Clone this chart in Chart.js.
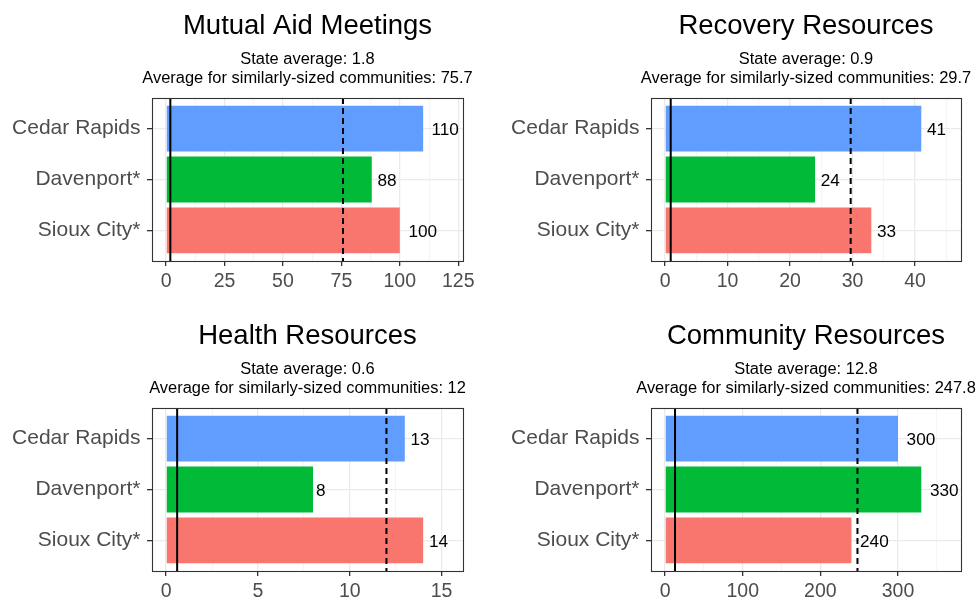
<!DOCTYPE html>
<html><head><meta charset="utf-8">
<script src="https://cdn.jsdelivr.net/npm/chart.js@4.4.1/dist/chart.umd.min.js"></script>
<style>
html,body{margin:0;padding:0;background:#fff;overflow:hidden;width:977px;height:602px;position:relative}
.p{position:absolute;width:488px;height:300px}
canvas{display:block}
</style></head><body>
<div class="p" style="left:0;top:0"><canvas id="c0" width="488" height="300"></canvas></div>
<div class="p" style="left:489px;top:0"><canvas id="c1" width="488" height="300"></canvas></div>
<div class="p" style="left:0;top:310px"><canvas id="c2" width="488" height="300"></canvas></div>
<div class="p" style="left:489px;top:310px"><canvas id="c3" width="488" height="300"></canvas></div>
<script>
// ---- data ----
const categories = ['Cedar Rapids', 'Davenport*', 'Sioux City*'];
const barColors = ['#619CFF', '#00BA38', '#F8766D'];
const titles = ['Mutual Aid Meetings', 'Recovery Resources', 'Health Resources', 'Community Resources'];
const mutualAidMeetings = [110, 88, 100];
const recoveryResources = [41, 24, 33];
const healthResources = [13, 8, 14];
const communityResources = [300, 330, 240];
const stateAverage = [1.8, 0.9, 0.6, 12.8];
const similarAverage = [75.7, 29.7, 12, 247.8];
const tickSteps = [25, 10, 5, 100];
const panelSeries = [mutualAidMeetings, recoveryResources, healthResources, communityResources];

const FONT = "'Liberation Sans', Arial, Helvetica, sans-serif";
const yAxisWidth = [152, 162];
const rightPad = [25, 16];

const valueLabels = {
  id: 'valueLabels',
  afterDatasetsDraw(chart) {
    const ctx = chart.ctx;
    const meta = chart.getDatasetMeta(0);
    const vals = chart.data.datasets[0].data;
    ctx.save();
    ctx.font = '17.2px ' + FONT;
    ctx.fillStyle = '#000';
    ctx.textAlign = 'left';
    ctx.textBaseline = 'middle';
    meta.data.forEach((el, k) => {
      const t = String(vals[k].x);
      const w = ctx.measureText(t).width;
      ctx.fillText(t, el.x + 0.3 * w, el.y + 1.5);
    });
    ctx.restore();
  }
};
const subtitleLines = {
  id: 'subtitleLines',
  afterDraw(chart, args, opts) {
    const a = chart.chartArea, ctx = chart.ctx;
    const cx = (a.left + a.right) / 2;
    ctx.save();
    ctx.font = '16.45px ' + FONT;
    ctx.fillStyle = '#000';
    ctx.textAlign = 'center';
    ctx.textBaseline = 'middle';
    ctx.fillText(opts.lines[0], cx, a.top - 38.6);
    ctx.fillText(opts.lines[1], cx, a.top - 19.9);
    ctx.restore();
  }
};
const panelBorder = {
  id: 'panelBorder',
  afterDraw(chart) {
    const a = chart.chartArea, ctx = chart.ctx;
    ctx.save();
    ctx.strokeStyle = '#333333';
    ctx.lineWidth = 1.1;
    ctx.strokeRect(Math.round(a.left) + 0.5, Math.round(a.top) + 0.5, Math.round(a.right - a.left), Math.round(a.bottom - a.top));
    ctx.restore();
  }
};

function makeChart(i) {
  const vals = panelSeries[i];
  const hi = Math.max(...vals) * 1.1;
  const xMin = -0.05 * hi, xMax = hi * 1.05;
  const step = tickSteps[i];
  const col = i % 2;
  new Chart(document.getElementById('c' + i), {
    type: 'bar',
    data: {
      datasets: [
        { type: 'bar', data: vals.map((v, k) => ({ x: v, y: k + 1 })), backgroundColor: barColors,
          borderWidth: 0, categoryPercentage: 1, barPercentage: 0.9, order: 2 },
        { type: 'line', data: [{ x: stateAverage[i], y: 0.4 }, { x: stateAverage[i], y: 3.6 }],
          borderColor: '#000', borderWidth: 2, pointRadius: 0, order: 1 },
        { type: 'line', data: [{ x: similarAverage[i], y: 0.4 }, { x: similarAverage[i], y: 3.6 }],
          borderColor: '#000', borderWidth: 2, borderDash: [6, 4], pointRadius: 0, order: 0 }
      ]
    },
    options: {
      indexAxis: 'y', responsive: false, animation: false, devicePixelRatio: 1,
      layout: { padding: { left: 0, right: rightPad[col], top: 0, bottom: 0 } },
      plugins: {
        legend: { display: false }, tooltip: { enabled: false },
        title: { display: true, text: titles[i], fullSize: false, color: '#000',
          font: { family: FONT, size: 27.5, weight: 'normal', lineHeight: 1.2 }, padding: { top: 9.5, bottom: 55.5 } },
        subtitleLines: { lines: ['State average: ' + stateAverage[i], 'Average for similarly-sized communities: ' + similarAverage[i]] }
      },
      scales: {
        x: {
          type: 'linear', min: xMin, max: xMax,
          afterBuildTicks(s) {
            const t = [];
            for (let v = 0; v <= xMax + 1e-9; v += step / 2) t.push({ value: v });
            s.ticks = t;
          },
          afterFit(s) { s.height = 39; },
          ticks: { autoSkip: false, maxRotation: 0, padding: 4, color: '#4D4D4D',
            font: { family: FONT, size: 19.5 },
            callback: (v) => (Math.abs(v % step) < 1e-9 ? String(v) : '') },
          grid: {
            color: (c) => (c.tick && Math.abs(c.tick.value % step) < 1e-9 ? '#EBEBEB' : '#F3F3F3'),
            lineWidth: (c) => (c.tick && Math.abs(c.tick.value % step) < 1e-9 ? 1.3 : 0.8),
            tickColor: (c) => (c.tick && Math.abs(c.tick.value % step) < 1e-9 ? '#333333' : 'rgba(0,0,0,0)'),
            tickLength: 5, tickWidth: 1.3, drawTicks: true
          },
          border: { display: false }
        },
        y: {
          type: 'linear', min: 0.4, max: 3.6, reverse: true, offset: false,
          afterBuildTicks(s) { s.ticks = [{ value: 1 }, { value: 2 }, { value: 3 }]; },
          afterFit(s) { s.width = yAxisWidth[col]; },
          ticks: { autoSkip: false, padding: 6.5, color: '#4D4D4D', font: { family: FONT, size: 21 },
            callback: (v) => categories[Math.round(v) - 1] },
          grid: { offset: false, color: '#EBEBEB', lineWidth: 1.3, tickColor: '#333333', tickLength: 5, tickWidth: 1.3 },
          border: { display: false }
        }
      }
    },
    plugins: [valueLabels, subtitleLines, panelBorder]
  });
}
for (let i = 0; i < 4; i++) makeChart(i);
</script>
</body></html>
